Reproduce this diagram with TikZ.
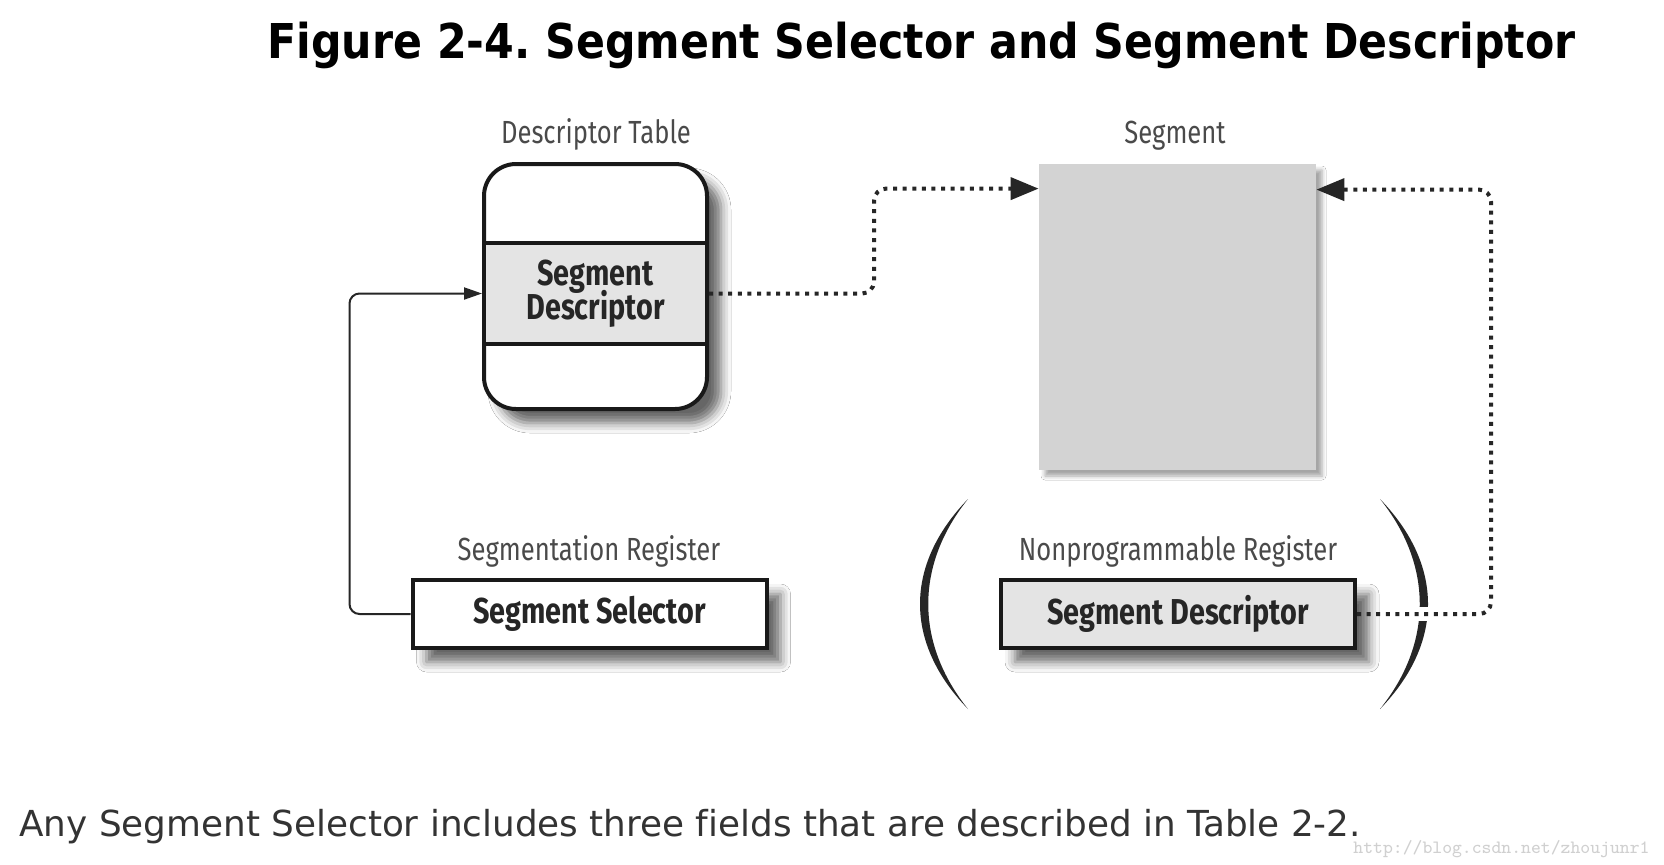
\documentclass[tikz,border=0pt]{standalone}
\usepackage{fontspec}
\usetikzlibrary{arrows.meta,shadows.blur}
\newfontfamily\diagfont[FakeStretch=0.8]{Fira Sans}
\newfontfamily\capfont[Ligatures=NoCommon]{DejaVu Sans}
\newfontfamily\titlefont[FakeStretch=0.89]{DejaVu Sans}
\definecolor{labelgray}{HTML}{4A4A4A}
\definecolor{boldtext}{HTML}{262626}
\definecolor{bandfill}{HTML}{E4E4E4}
\definecolor{segfill}{HTML}{D3D3D3}
\definecolor{captext}{HTML}{333333}
\definecolor{wmgray}{HTML}{D0D0D0}
\tikzset{
  lbl/.style={font=\diagfont\fontsize{16}{18}\selectfont,text=labelgray,anchor=base},
  boldlbl/.style={font=\diagfont\bfseries\fontsize{18}{20}\selectfont,text=boldtext,align=center},
  dropshadow/.style={blur shadow={shadow xshift=7pt,shadow yshift=-7pt,shadow blur radius=5pt,shadow opacity=60}},
  regbox/.style={draw=black!90,line width=2pt,minimum width=177pt,minimum height=34pt,inner sep=0pt,dropshadow,boldlbl},
  dotarrow/.style={line width=2pt,dash pattern=on 2pt off 2.8pt,black!85,rounded corners=6pt,-{Triangle[length=14pt,width=11pt]}},
  selarrow/.style={line width=1pt,black!85,rounded corners=5pt,-{Triangle[length=9pt,width=6pt]}}
}
\begin{document}
\frenchspacing
\begin{tikzpicture}[x=0.5pt,y=-0.5pt]
\useasboundingbox[fill=white] (0,0) rectangle (1664,864);
% title and caption
\node[anchor=base west,inner sep=0pt,font=\titlefont\bfseries\fontsize{24}{28}\selectfont] (title) at (267,58) {Figure 2-4. Segment Selector and Segment Descriptor};
\node[anchor=base west,inner sep=0pt,text=captext,font=\capfont\fontsize{17.9}{20}\selectfont] (caption) at (19,836) {Any Segment Selector includes three fields that are described in Table 2-2.};
\node[anchor=base west,inner sep=0pt,text=wmgray,font=\ttfamily\fontsize{9.4}{11}\selectfont] (mark) at (1353,853) {http://blog.csdn.net/zhoujunr1};
% descriptor table
\node[draw=black!90,line width=2pt,fill=white,rounded corners=16pt,minimum width=111.5pt,minimum height=122.5pt,dropshadow] (table) at (595.5,286.5) {};
\node[draw=black!90,line width=2pt,fill=bandfill,minimum width=111.5pt,minimum height=50.5pt,inner sep=0pt,boldlbl] (band) at (595.5,293.5) {Segment\\[-3pt]Descriptor};
\node[lbl] (tablelbl) at (596,143) {Descriptor Table};
% segment
\node[fill=segfill,minimum width=138.5pt,minimum height=153pt,blur shadow={shadow xshift=3pt,shadow yshift=-3pt,shadow blur radius=2pt,shadow opacity=35}] (seg) at (1177.5,317) {};
\node[lbl] (seglbl) at (1175,143) {Segment};
% registers
\node[regbox,fill=white] (sel) at (589.5,614) {Segment Selector};
\node[lbl] (sellbl) at (589,560) {Segmentation Register};
\node[regbox,fill=bandfill] (dreg) at (1178,614) {Segment Descriptor};
\node[lbl] (dreglbl) at (1178,560) {Nonprogrammable Register};
% parentheses
\fill[black!85] (968,499) .. controls (904,565) and (904,643) .. (968,709) .. controls (915,643) and (915,565) .. cycle;
\fill[black!85] (1380,499) .. controls (1444,565) and (1444,643) .. (1380,709) .. controls (1433,643) and (1433,565) .. cycle;
\draw[white,line width=7pt] ([xshift=25pt]dreg.east) -- ++(70,0);
% connectors
\draw[selarrow] (sel.west) -- ++(-61,0) |- (band.west);
\draw[dotarrow] (band.east) -- ++(165,0) |- ([yshift=-12.5pt]seg.north west);
\draw[dotarrow] (dreg.east) -- ++(134,0) |- ([yshift=-13pt]seg.north east);
\end{tikzpicture}
\end{document}
